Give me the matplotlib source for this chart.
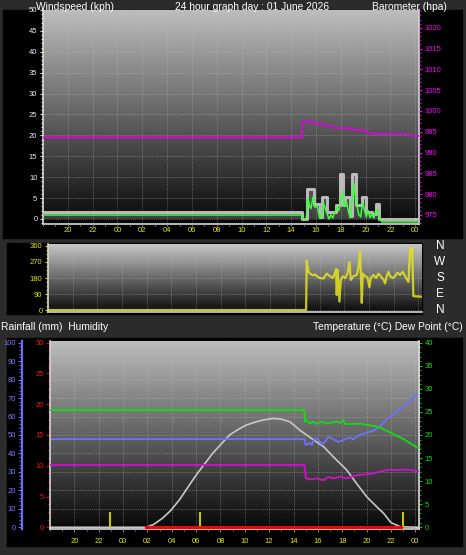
import numpy as np
import matplotlib
matplotlib.use("Agg")
import matplotlib.pyplot as plt
from matplotlib.patches import Rectangle
from matplotlib.ticker import MultipleLocator, FixedLocator, FuncFormatter

plt.rcParams['font.family'] = ['Liberation Sans', 'DejaVu Sans']

# -------------------------
# DATA (hours relative to midnight of the graph day)
# -------------------------
gust_hours = [-6.0, 14.85, 15.3, 15.85, 16.3, 16.5, 16.85, 17.6, 17.95, 18.2, 18.35,
              18.75, 18.9, 19.2, 19.7, 20.05, 20.5, 20.8, 21.1, 24.3]
gust_kph = [1.75, 0.0, 7.1, 3.6, 0.5, 5.2, 1.7, 3.4, 10.7, 3.4, 5.2,
            0.8, 10.7, 3.4, 5.2, 1.7, 1.2, 3.6, 0.0, 0.0]

avg_hours = [-6.0, 14.85, 14.95, 15.2, 15.35, 15.5, 15.6, 15.75, 15.9, 16.1, 16.3, 16.45,
             16.6, 16.75, 16.9, 17.05, 17.2, 17.35, 17.5, 17.7, 17.85, 18.0, 18.15, 18.3,
             18.45, 18.6, 18.75, 18.95, 19.05, 19.15, 19.3, 19.45, 19.6, 19.75, 19.9, 20.05,
             20.2, 20.35, 20.5, 20.65, 20.8, 20.95, 21.1, 21.3, 24.3]
avg_kph = [0.95, 0.95, 0.0, 0.0, 5.0, 3.0, 2.5, 5.2, 2.8, 3.2, 0.2, 0.5,
           3.8, 2.5, 1.2, 0.0, 1.0, 0.2, 1.5, 2.8, 2.0, 4.5, 6.8, 3.0,
           4.2, 2.0, 0.3, 5.5, 8.5, 6.0, 3.2, 1.0, 0.5, 4.0, 2.2, 0.5,
           2.0, 0.3, 1.2, 0.2, 1.8, 2.2, 0.5, -0.7, -0.7]

baro_hours = [-6.0, 14.85, 14.92, 15.8, 15.85, 16.6, 16.65, 17.4, 17.45, 18.8, 19.0,
              19.9, 20.1, 20.6, 23.3, 23.8, 24.3]
baro_hpa = [993.6, 993.6, 997.4, 997.4, 996.9, 996.9, 996.4, 996.4, 995.9, 995.9, 995.4,
            995.4, 994.8, 994.5, 994.5, 994.0, 994.0]

dir_hours = [-6.0, 14.91, 14.96, 15.10, 15.23, 15.45, 15.64, 15.77, 16.04, 16.31, 16.58,
             16.85, 17.07, 17.26, 17.34, 17.39, 17.47, 17.61, 17.72, 17.88, 18.07, 18.26,
             18.42, 18.53, 18.74, 19.01, 19.15, 19.28, 19.34, 19.42, 19.50, 19.69, 19.88,
             20.04, 20.15, 20.36, 20.58, 20.77, 20.96, 21.17, 21.31, 21.44, 21.58, 21.71,
             21.93, 22.12, 22.31, 22.52, 22.74, 22.93, 23.20, 23.34, 23.50, 23.60, 24.28]
dir_deg = [0, 0, 277, 215, 205, 195, 200, 190, 180, 177, 205,
           190, 180, 210, 230, 85, 225, 47, 169, 190, 180, 205,
           270, 169, 190, 197, 240, 330, 210, 40, 205, 190, 184,
           128, 180, 197, 180, 205, 190, 172, 150, 190, 215, 190,
           180, 190, 210, 197, 215, 190, 158, 345, 350, 78, 75]

temp_hours = [-6.0, 14.88, 14.93, 15.07, 15.34, 15.62, 15.89, 16.3, 16.72, 17.13, 17.54,
              17.81, 18.09, 18.23, 18.91, 19.46, 20.01, 20.84, 21.11, 21.66, 22.35, 23.04,
              23.59, 24.14, 24.3]
temp_c = [25.4, 25.4, 22.9, 23.2, 22.5, 22.9, 22.4, 22.9, 22.5, 22.7, 22.9,
          22.6, 23.2, 22.4, 22.4, 22.5, 22.2, 21.8, 21.6, 20.9, 20.0, 19.1,
          18.2, 17.3, 17.2]

hum_hours = [-6.0, 14.9, 15.01, 15.34, 15.48, 15.75, 16.03, 16.3, 16.58, 16.85, 17.27,
             17.68, 18.23, 18.64, 18.91, 19.46, 20.01, 20.56, 21.11, 21.39, 21.94, 22.49,
             23.04, 23.59, 24.14, 24.3]
hum_pct = [47.8, 47.8, 44.6, 45.8, 44.6, 48.2, 47.7, 44.9, 46.4, 49.1, 47.7,
           46.2, 47.7, 48.7, 47.7, 50.1, 51.3, 52.4, 54.6, 56.7, 60.0, 62.7,
           65.4, 68.6, 71.8, 72.3]

dew_hours = [-6.0, 14.9, 15.01, 15.48, 15.89, 16.44, 16.85, 17.27, 17.81, 18.36, 19.05,
             19.46, 20.01, 20.56, 21.11, 21.66, 22.35, 23.04, 23.72, 24.14, 24.3]
dew_c = [13.5, 13.5, 10.6, 10.4, 10.6, 10.2, 10.9, 10.6, 11.0, 10.6, 11.2,
         11.4, 11.5, 11.7, 12.1, 12.4, 12.4, 12.5, 12.4, 12.1, 12.1]

sun_hours = [-6.0, 1.87, 2.5, 3.24, 3.9, 4.62, 6.0, 7.36, 8.74, 9.5, 10.12, 11.0,
             11.49, 12.31, 13.0, 13.69, 14.5, 15.6, 16.5, 17.26, 18.37, 19.2, 20.02,
             21.0, 21.39, 22.0, 22.77, 24.3]
sun_val = [0, 0, 1.5, 4.9, 9.0, 14.8, 28.3, 40.1, 50.0, 53.2, 55.4, 57.3,
           58.1, 59.0, 58.6, 57.2, 52.7, 47.5, 43.5, 38.2, 31.0, 23.5, 16.4,
           10.0, 7.6, 2.5, 0.3, 0]

rain_hours = [1.87, 22.8]
rain_mm = [0.0, 0.0]

marker_hours = [-1.07, 6.35, 22.98]

hour_ticks = list(range(-4, 25, 2))

# -------------------------
# LAYOUT HELPERS (pixel coordinates, y from top)
# -------------------------
W, H = 466, 555
BG = '#2b2b2b'
SPINE = '#d8d8d8'
YELLOW = '#e8e800'


def box(fig, x0, y0, x1, y1, color):
    fig.patches.append(Rectangle((x0 / W, 1 - y1 / H), (x1 - x0) / W, (y1 - y0) / H,
                                 transform=fig.transFigure, color=color, zorder=-10))


def axes_px(fig, x0, y0, x1, y1):
    return fig.add_axes([x0 / W, 1 - y1 / H, (x1 - x0) / W, (y1 - y0) / H])


def gradient(ax, top=0.74, bottom=0.03):
    g = np.linspace(bottom, top, 256).reshape(-1, 1)
    ax.imshow(g, cmap='gray', vmin=0, vmax=1, extent=[0, 1, 0, 1], origin='lower',
              transform=ax.transAxes, aspect='auto', zorder=0, interpolation='bilinear')


def style_plot(ax, xlabels=True, pad=1.0):
    ax.set_xlim(-6, 24.3)
    ax.xaxis.set_major_locator(FixedLocator(hour_ticks))
    ax.xaxis.set_minor_locator(MultipleLocator(1))
    ax.xaxis.set_major_formatter(FuncFormatter(lambda v, p: "%02d" % (int(round(v)) % 24)))
    ax.grid(True, which='major', color='#c0c0c0', linestyle=(0, (1, 1.5)),
            linewidth=0.6, alpha=0.55)
    ax.set_axisbelow(False)
    for s in ['left', 'bottom', 'right']:
        ax.spines[s].set_color(SPINE)
        ax.spines[s].set_linewidth(1.2)
    ax.spines['top'].set_visible(False)
    if xlabels:
        ax.tick_params(axis='x', which='major', colors='#808080', labelcolor=YELLOW,
                       labelsize=5.5, length=1.5, pad=pad)
        ax.tick_params(axis='x', which='minor', colors='#808080', length=1.5)
    else:
        ax.tick_params(axis='x', which='both', length=0, labelbottom=False)


fig = plt.figure(figsize=(W / 100, H / 100), dpi=100, facecolor=BG)

# black panels
box(fig, 3, 10, 462, 238, 'black')
box(fig, 7, 243, 422, 314, 'black')
box(fig, 7, 338, 462, 546, 'black')

# header texts
fig.text(75 / W, 1 - 9.5 / H, "Windspeed (kph)", color='white', fontsize=7.4,
         ha='center', va='baseline')
fig.text(252 / W, 1 - 9.5 / H, "24 hour graph day : 01 June 2026", color='white',
         fontsize=7.4, ha='center', va='baseline')
fig.text(409 / W, 1 - 9.5 / H, "Barometer (hpa)", color='white', fontsize=7.4,
         ha='center', va='baseline')
fig.text(1 / W, 1 - 330 / H, "Rainfall (mm)  Humidity", color='white', fontsize=7.4,
         ha='left', va='baseline')
fig.text(463 / W, 1 - 330 / H, "Temperature (°C) Dew Point (°C)", color='white',
         fontsize=7.4, ha='right', va='baseline')

# -------------------------
# PANEL 1: wind + barometer
# -------------------------
ax1 = axes_px(fig, 43, 10, 419, 224)
gradient(ax1)
style_plot(ax1, pad=1.0)
ax1.set_ylim(-1.2, 50)
ax1.yaxis.set_major_locator(MultipleLocator(5))
ax1.yaxis.set_minor_locator(MultipleLocator(1))
ax1.tick_params(axis='y', which='major', colors='#e8e8e8', labelcolor='#e4ecff',
                labelsize=5.5, length=2.5, pad=1.5)
ax1.tick_params(axis='y', which='minor', colors='#e8e8e8', length=1.5)

ax1.fill_between(gust_hours, 0, gust_kph, step='post', color='white', alpha=0.22,
                 linewidth=0, zorder=2)
ax1.plot(gust_hours, gust_kph, drawstyle='steps-post', color='#c8c8c8', lw=2.2,
         alpha=0.9, zorder=3)
ax1.plot(avg_hours, avg_kph, color='#3cff3c', lw=1.1, zorder=4)

ax1p = ax1.twinx()
ax1p.set_ylim(972.8, 1024.3)
for s in ax1p.spines.values():
    s.set_visible(False)
ax1p.set_yticks(range(975, 1021, 5))
ax1p.yaxis.set_minor_locator(MultipleLocator(1))
ax1p.tick_params(axis='y', which='major', colors='#ff00ff', labelcolor='#ff00ff',
                 labelsize=5.5, length=2.5, pad=1.5)
ax1p.tick_params(axis='y', which='minor', colors='#ff00ff', length=1.5)
ax1p.plot(baro_hours, baro_hpa, color='#e000e0', lw=1.3)
ax1p.set_xlim(-6, 24.3)

# -------------------------
# PANEL 2: wind direction
# -------------------------
ax2 = axes_px(fig, 48, 244, 422, 312)
gradient(ax2, top=0.78, bottom=0.04)
style_plot(ax2, xlabels=False)
ax2.spines['right'].set_visible(False)
ax2.set_ylim(-11, 371)
ax2.set_yticks([0, 90, 180, 270, 360])
ax2.yaxis.set_minor_locator(MultipleLocator(22.5))
ax2.tick_params(axis='y', which='major', colors=YELLOW, labelcolor=YELLOW,
                labelsize=5.5, length=2.5, pad=1.5)
ax2.tick_params(axis='y', which='minor', colors=YELLOW, length=1.5)
ax2.plot(dir_hours, dir_deg, color='#e4e41c', lw=1.6, alpha=0.85, zorder=3)
for lab, deg in zip(['N', 'W', 'S', 'E', 'N'], [360, 270, 180, 90, 0]):
    ax2.text(1.048, deg, lab, transform=ax2.get_yaxis_transform(), color='white',
             fontsize=8.5, ha='center', va='center', clip_on=False)

# -------------------------
# PANEL 3: humidity, rain, temperature, dew point
# -------------------------
ax3 = axes_px(fig, 50, 340.7, 419, 529.3)
gradient(ax3)
style_plot(ax3, pad=4.5)
ax3.tick_params(axis='x', which='major', length=2)
ax3.set_ylim(-1.1, 101.1)
ax3.spines['left'].set_position(('outward', 20))
ax3.spines['left'].set_color('#6b6bff')
ax3.spines['left'].set_linewidth(1.6)
ax3.spines['right'].set_visible(False)
ax3.yaxis.set_major_locator(MultipleLocator(10))
ax3.yaxis.set_minor_locator(MultipleLocator(2))
ax3.tick_params(axis='y', which='major', colors='#6b6bff', labelcolor='#7878ff',
                labelsize=5.5, length=3, pad=1.5)
ax3.tick_params(axis='y', which='minor', colors='#6b6bff', length=2)

ax3.plot(sun_hours, sun_val, color='#c8c8c8', lw=1.2, zorder=2)
ax3.vlines(marker_hours, 0, 8.4, color='#c8c800', lw=1.5, zorder=3)
ax3.plot(hum_hours, hum_pct, color='#7070ff', lw=1.3, zorder=4)

ax3r = ax3.twinx()
ax3r.set_ylim(-0.33, 30.33)
ax3r.yaxis.set_ticks_position('left')
ax3r.yaxis.set_label_position('left')
for s in ['top', 'right', 'bottom']:
    ax3r.spines[s].set_visible(False)
ax3r.spines['left'].set_color(SPINE)
ax3r.spines['left'].set_linewidth(1.2)
ax3r.yaxis.set_major_locator(MultipleLocator(5))
ax3r.yaxis.set_minor_locator(MultipleLocator(1.25))
ax3r.tick_params(axis='y', which='major', colors='#e00000', labelcolor='#ff1010',
                 labelsize=5.5, length=3, pad=1.5)
ax3r.tick_params(axis='y', which='minor', colors='#c00000', length=2)
ax3r.plot(rain_hours, rain_mm, color='#ff0000', lw=2.2, zorder=3)

ax3t = ax3.twinx()
ax3t.set_ylim(-0.43, 40.43)
for s in ['top', 'left', 'bottom']:
    ax3t.spines[s].set_visible(False)
ax3t.spines['right'].set_color(SPINE)
ax3t.spines['right'].set_linewidth(1.2)
ax3t.yaxis.set_major_locator(MultipleLocator(5))
ax3t.yaxis.set_minor_locator(MultipleLocator(1))
ax3t.tick_params(axis='y', which='major', colors='#00d000', labelcolor='#10e010',
                 labelsize=5.5, length=2.5, pad=1.5)
ax3t.tick_params(axis='y', which='minor', colors='#00d000', length=1.5)
ax3t.plot(temp_hours, temp_c, color='#10e010', lw=1.3, zorder=3)
ax3t.plot(dew_hours, dew_c, color='#d010d0', lw=1.3, zorder=3)
ax3t.set_xlim(-6, 24.3)

fig.savefig("out.png", dpi=100, facecolor=BG)
